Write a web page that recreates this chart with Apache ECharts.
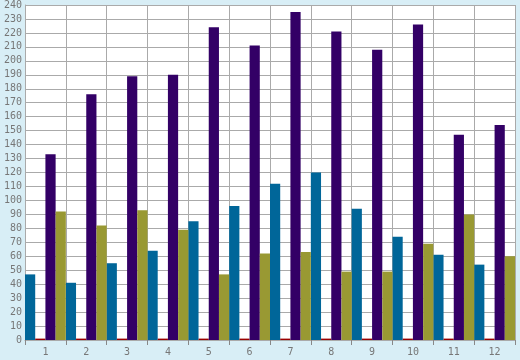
<!DOCTYPE html>
<html>
<head>
<meta charset="utf-8">
<script src="https://cdn.jsdelivr.net/npm/echarts@6/dist/echarts.min.js"></script>
<style>
html,body{margin:0;padding:0;background:#d8eef6;}
#chart{width:520px;height:360px;}
</style>
</head>
<body>
<div id="chart"></div>
<script>
const categories = ['1','2','3','4','5','6','7','8','9','10','11','12'];
const blueValues   = [47, 41, 55, 64, 85, 96, 112, 120, 94, 74, 61, 54];
const redValues    = [1, 1, 1, 1, 1, 1, 1, 1, 1, 1, 1, 1];
const purpleValues = [133, 176, 189, 190, 224, 211, 235, 221, 208, 226, 147, 154];
const oliveValues  = [92, 82, 93, 79, 47, 62, 63, 49, 49, 69, 90, 60];

const chart = echarts.init(document.getElementById('chart'), null, {renderer: 'canvas'});
const labelStyle = {color: '#777', fontFamily: 'DejaVu Sans Mono', fontSize: 10};
function bar(name, data, color) {
  return {name: name, type: 'bar', data: data, barGap: '0%', barCategoryGap: '0%',
          itemStyle: {color: color}, animation: false};
}
chart.setOption({
  backgroundColor: '#d8eef6',
  animation: false,
  grid: {left: 25, right: 5, top: 5, bottom: 20, show: true, backgroundColor: '#ffffff', borderWidth: 0},
  xAxis: {
    type: 'category', data: categories, boundaryGap: true,
    axisLine: {show: true, lineStyle: {color: '#aaaaaa'}},
    axisTick: {show: true, length: 5, interval: 0, lineStyle: {color: '#888888'}},
    splitLine: {show: true, interval: 0, lineStyle: {color: '#aaaaaa', width: 1}},
    axisLabel: Object.assign({margin: 7, interval: 0}, labelStyle)
  },
  yAxis: {
    type: 'value', min: 0, max: 240, interval: 10,
    axisLine: {show: true, lineStyle: {color: '#aaaaaa'}},
    axisTick: {show: false},
    splitLine: {show: true, lineStyle: {color: '#aaaaaa', width: 1}},
    axisLabel: Object.assign({margin: 3}, labelStyle)
  },
  series: [
    bar('A', blueValues, '#006699'),
    bar('B', redValues, '#990000'),
    bar('C', purpleValues, '#330066'),
    bar('D', oliveValues, '#999933')
  ]
});
</script>
</body>
</html>
